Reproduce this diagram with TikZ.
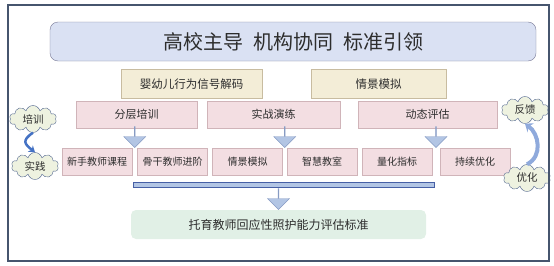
\documentclass[tikz,border=0pt]{standalone}
\usepackage{fontspec}
\setmainfont{Noto Sans CJK SC}
\usetikzlibrary{calc,arrows.meta,shapes.symbols,shapes.arrows}
\definecolor{txt}{RGB}{45,45,45}
\definecolor{frm}{RGB}{70,85,110}
\definecolor{headfill}{RGB}{218,225,243}
\definecolor{headline}{RGB}{120,122,150}
\definecolor{sigfill}{RGB}{243,237,215}
\definecolor{sigline}{RGB}{200,188,160}
\definecolor{pinkfill}{RGB}{243,222,226}
\definecolor{pinkline}{RGB}{208,180,185}
\definecolor{goalfill}{RGB}{225,240,230}
\definecolor{arrfill}{RGB}{178,197,228}
\definecolor{arrline}{RGB}{135,155,195}
\definecolor{barline}{RGB}{70,95,165}
\definecolor{cloudfill}{RGB}{238,242,224}
\definecolor{cloudline}{RGB}{85,105,145}
\definecolor{bendblue}{RGB}{68,114,196}
\definecolor{bendlight}{RGB}{143,170,220}

\begin{document}
\begin{tikzpicture}[x=1pt,y=-1pt,
    head/.style={draw=headline,fill=headfill,rounded corners=8pt,minimum width=486,minimum height=39,
      font=\fontsize{20}{22}\selectfont,text=txt},
    sig/.style={draw=sigline,fill=sigfill,minimum height=29,font=\fontsize{11.5}{13}\selectfont,text=txt},
    lvl/.style={draw=pinkline,fill=pinkfill,minimum height=27,font=\fontsize{11}{13}\selectfont,text=txt},
    item/.style={lvl,minimum width=70,font=\fontsize{10}{12}\selectfont},
    goal/.style={fill=goalfill,rounded corners=5pt,minimum width=295,minimum height=29,
      font=\fontsize{12}{14}\selectfont,text=txt},
    fat/.style={single arrow,rotate=-90,draw=arrline,fill=arrfill,minimum height=21,minimum width=22,
      single arrow head extend=6,inner sep=0,anchor=tip},
    puff/.style={cloud,cloud puffs=10,aspect=1.7,draw=cloudline,fill=cloudfill,minimum width=47,
      minimum height=27,inner sep=0,font=\fontsize{10.5}{12}\selectfont,text=txt}]
  \useasboundingbox (0,0) rectangle (554,265);
  \node[head] (T) at (293,41.5) {高校主导\hspace{0.5em}机构协同\hspace{0.5em}标准引领};
  \node[sig,minimum width=141] (S1) at (191.5,84) {婴幼儿行为信号解码};
  \node[sig,minimum width=135] (S2) at (378.5,84) {情景模拟};
  \node[lvl,minimum width=121] (L1) at (136.5,114.5) {分层培训};
  \node[lvl,minimum width=133] (L2) at (273.5,114.5) {实战演练};
  \node[lvl,minimum width=139] (L3) at (427.5,114.5) {动态评估};
  \node[item] (F1) at (97,161.5) {新手教师课程};
  \node[item] (F2) at (172.5,161.5) {骨干教师进阶};
  \node[item] (F3) at (247.5,161.5) {情景模拟};
  \node[item] (F4) at (322,161.5) {智慧教室};
  \node[item] (F5) at (397,161.5) {量化指标};
  \node[item] (F6) at (475,161.5) {持续优化};
  \node[draw=barline,fill=arrfill,minimum width=301,minimum height=5,inner sep=0] (B) at (283.5,185) {};
  \node[goal] (G) at (278.5,224.5) {托育教师回应性照护能力评估标准};
  \node[fat] (D1) at ($(F1.north east)!.5!(F2.north west)$) {};
  \node[fat] (D2) at ($(F3.north east)!.5!(F4.north west)$) {};
  \node[fat] (D3) at ($(F5.north east)!.5!(F6.north west)$) {};
  \node[fat] (D4) at (G.north) {};
  \node[puff] (C1) at (33,119) {培训};
  \node[puff] (C2) at (35,166) {实践};
  \node[puff] (C3) at (525,110) {反馈};
  \node[puff] (C4) at (527,178) {优化};
  \draw[bendblue,line width=2.5pt,-{Stealth[length=6pt,width=8pt]}]
    (C1.south) .. controls +(-12,8) and +(-10,-8) .. (C2.north);
  \draw[bendlight,line width=4pt,-{Stealth[length=7pt,width=11pt]}]
    (C4.north) .. controls +(16,-8) and +(14,10) .. (C3.south);
  \draw[frm,line width=1.2pt] (8,5) rectangle (549,261);
\end{tikzpicture}
\end{document}
